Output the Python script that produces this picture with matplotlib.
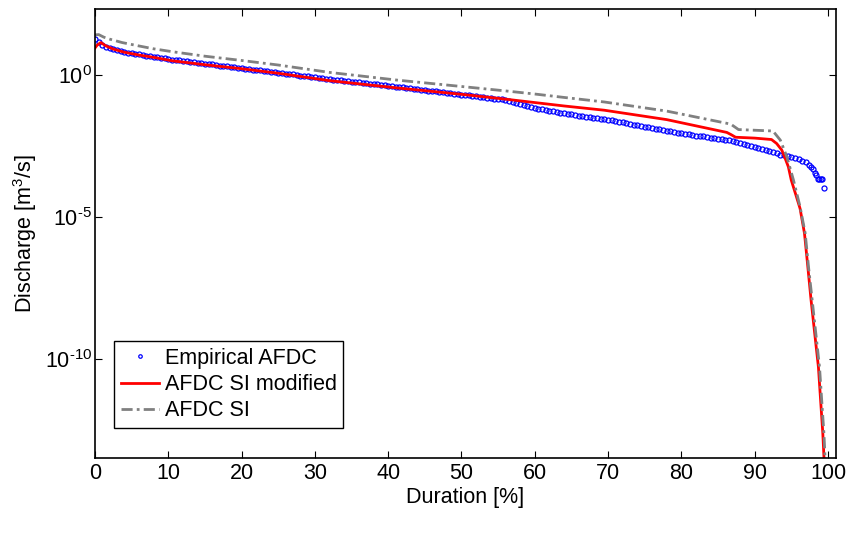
import numpy as np
import matplotlib
matplotlib.use('Agg')
import matplotlib.pyplot as plt

plt.rcParams['font.family'] = ['Liberation Sans', 'DejaVu Sans']
plt.rcParams['mathtext.fontset'] = 'custom'
plt.rcParams['mathtext.rm'] = 'Liberation Sans'
plt.rcParams['mathtext.it'] = 'Liberation Sans:italic'
plt.rcParams['mathtext.default'] = 'regular'
fs = 15.5

# empirical AFDC, log10 of discharge every 0.5 % from 0 to 97 %
emp_dur = np.arange(0, 97.01, 0.5)
emp_log = [1.27, 1.15, 1.06, 1.00, 0.95, 0.91, 0.87, 0.84, 0.81, 0.78,
           0.76, 0.74, 0.72, 0.70, 0.68, 0.66, 0.64, 0.62, 0.60, 0.58,
           0.56, 0.54, 0.52, 0.51, 0.49, 0.48, 0.46, 0.45, 0.43, 0.41,
           0.40, 0.38, 0.37, 0.35, 0.33, 0.32, 0.30, 0.29, 0.27, 0.26,
           0.24, 0.22, 0.21, 0.19, 0.18, 0.16, 0.14, 0.13, 0.11, 0.10,
           0.08, 0.06, 0.05, 0.03, 0.02, 0.00, -0.02, -0.03, -0.05, -0.06,
           -0.08, -0.09, -0.11, -0.13, -0.14, -0.16, -0.17, -0.19, -0.20, -0.22,
           -0.23, -0.25, -0.26, -0.27, -0.29, -0.30, -0.32, -0.33, -0.35, -0.36,
           -0.38, -0.39, -0.41, -0.42, -0.44, -0.45, -0.47, -0.48, -0.50, -0.52,
           -0.53, -0.55, -0.57, -0.58, -0.60, -0.61, -0.63, -0.64, -0.66, -0.68,
           -0.69, -0.71, -0.72, -0.74, -0.75, -0.77, -0.78, -0.80, -0.81, -0.83,
           -0.84, -0.86, -0.87, -0.90, -0.94, -0.98, -1.03, -1.07, -1.10, -1.13,
           -1.15, -1.18, -1.20, -1.23, -1.25, -1.28, -1.30, -1.33, -1.35, -1.37,
           -1.39, -1.41, -1.43, -1.45, -1.47, -1.49, -1.51, -1.52, -1.54, -1.56,
           -1.58, -1.60, -1.63, -1.65, -1.67, -1.70, -1.72, -1.75, -1.77, -1.79,
           -1.82, -1.84, -1.86, -1.89, -1.91, -1.94, -1.96, -1.98, -2.01, -2.03,
           -2.05, -2.07, -2.09, -2.11, -2.13, -2.14, -2.16, -2.18, -2.20, -2.22,
           -2.24, -2.25, -2.27, -2.29, -2.32, -2.35, -2.38, -2.42, -2.45, -2.49,
           -2.53, -2.57, -2.61, -2.64, -2.68, -2.72, -2.76, -2.80, -2.83, -2.86,
           -2.89, -2.92, -2.96, -3.01, -3.07]
# last few points of the empirical curve
tail_dur = [97.4, 97.7, 97.9, 98.2, 98.4, 98.6, 98.8, 99.0, 99.2, 99.4]
tail_log = [-3.15, -3.25, -3.32, -3.45, -3.52, -3.66, -3.66, -3.66, -3.66, -3.98]

# AFDC SI modified
mod_dur = [0, 0.3, 0.8, 1.5, 2.5, 4, 6, 8, 10.5, 15, 20, 25, 32, 41, 50, 56,
           60, 64, 69.5, 78, 86.2, 86.8, 87.4, 90, 92.3, 93.0, 93.7, 94.1,
           94.6, 95.0, 95.7, 96.2, 96.8, 97.2, 97.7, 98.2, 98.7, 99.0, 99.3, 99.6]
mod_log = [0.95, 1.05, 1.14, 1.02, 0.91, 0.80, 0.70, 0.62, 0.50, 0.36, 0.22,
           0.06, -0.20, -0.45, -0.68, -0.85, -0.97, -1.09, -1.24, -1.57, -2.02,
           -2.10, -2.19, -2.22, -2.27, -2.41, -2.64, -2.89, -3.23, -3.70, -4.28,
           -4.70, -5.57, -6.60, -7.92, -9.10, -10.27, -11.44, -12.60, -14.2]

# AFDC SI
si_dur = [0, 0.5, 1.2, 2, 3.7, 6, 8, 10.5, 15, 20, 25, 32, 41.2, 50.2, 56,
          60, 64, 69.5, 78, 86.2, 86.8, 87.8, 92.5, 93.5, 94.4, 95.3, 96.2, 96.9,
          97.35, 97.85, 98.35, 98.85, 99.15, 99.45, 99.75]
si_log = [1.41, 1.42, 1.33, 1.26, 1.14, 1.02, 0.92, 0.82, 0.66, 0.51, 0.35,
          0.09, -0.18, -0.41, -0.56, -0.67, -0.79, -0.95, -1.27, -1.70, -1.74,
          -1.92, -1.97, -2.29, -2.88, -3.70, -4.64, -5.57, -6.75, -7.92, -9.10,
          -10.27, -11.44, -12.60, -14.2]

x_emp = np.concatenate([emp_dur, tail_dur])
q_emp = 10 ** np.concatenate([emp_log, tail_log])

fig = plt.figure(figsize=(8.52, 5.37), dpi=100)
ax = fig.add_axes([95/852, 1-458/537, (836-95)/852, (458-9)/537])

ax.semilogy(x_emp, q_emp, 'o', ls='none', mfc='none', mec='blue', ms=3.6,
            mew=0.9, label='Empirical AFDC')
ax.semilogy(mod_dur, 10 ** np.array(mod_log), color='red', lw=2,
            label='AFDC SI modified')
ax.semilogy(si_dur, 10 ** np.array(si_log), color=(0.5, 0.5, 0.5), lw=2,
            ls=(0, (4, 1.5, 1, 1.5)), label='AFDC SI')

ax.set_xlim(0, 101.1)
ax.set_ylim(10 ** -13.47, 10 ** 2.32)
ax.set_xticks(np.arange(0, 101, 10))
ax.set_yticks([1e-10, 1e-5, 1e0])
ax.set_yticklabels(['$10^{\\text{-}10}$', '$10^{\\text{-}5}$', '$10^{0}$'])
ax.yaxis.set_minor_locator(matplotlib.ticker.NullLocator())
ax.tick_params(direction='in', length=5, width=0.8, top=True, right=True,
               labelsize=fs)
ax.tick_params(axis='y', pad=2)
for s in ax.spines.values():
    s.set_linewidth(1.2)

ax.set_xlabel('Duration [%]', fontsize=fs, labelpad=2)
ax.set_ylabel('Discharge [m$^3$/s]', fontsize=fs, labelpad=4)

leg = ax.legend(loc='lower left', bbox_to_anchor=(0.026, 0.067),
                borderaxespad=0, fontsize=fs, fancybox=False,
                edgecolor='black', framealpha=1, handlelength=1.8,
                handletextpad=0.25, labelspacing=0.25, borderpad=0.3,
                markerscale=0.7)
leg.get_frame().set_linewidth(1.0)

plt.savefig('out.png', dpi=100)
